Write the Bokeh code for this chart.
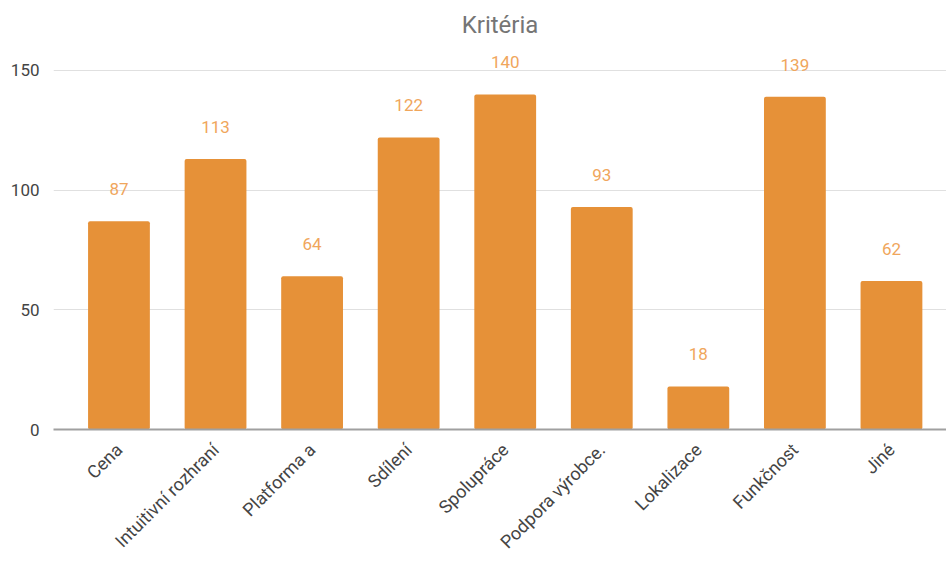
import math
from bokeh.plotting import figure
from bokeh.models import ColumnDataSource, Range1d, FixedTicker
from bokeh.core.properties import value
from bokeh.embed import file_html
from bokeh.resources import INLINE

categories = ["Cena", "Intuitivní rozhraní", "Platforma a", "Sdílení", "Spolupráce",
              "Podpora výrobce.", "Lokalizace", "Funkčnost", "Jiné"]
counts = [87, 113, 64, 122, 140, 93, 18, 139, 62]
y_ticks = [0, 50, 100, 150]
title_text = "Kritéria"

xs = list(range(len(categories)))
src = ColumnDataSource(dict(x=xs, top=counts, label=[str(v) for v in counts]))

p = figure(width=946, height=562, output_backend="svg", toolbar_location=None,
           x_range=Range1d(-0.678, 8.57), y_range=Range1d(0, 160),
           min_border_left=53, min_border_right=0, min_border_top=46, min_border_bottom=120)

p.title.text = title_text
p.title.align = "center"
p.title.text_font = "Roboto"
p.title.text_font_size = "24px"
p.title.text_font_style = "normal"
p.title.text_color = "#757575"
p.title.standoff = 16

p.vbar(x="x", top="top", width=0.64, source=src, fill_color="#e69138",
       line_color=None, border_radius=2)
p.text(x="x", y="top", text="label", source=src, y_offset=-32,
       text_align="center", text_baseline="middle", text_color="#f0a65c",
       text_font=value("Roboto"), text_font_size="17px")

p.outline_line_color = None
p.background_fill_color = "white"
p.xgrid.grid_line_color = None
p.ygrid.grid_line_color = "#e0e0e0"
p.ygrid.grid_line_width = 1
p.yaxis.ticker = FixedTicker(ticks=y_ticks)
p.xaxis.ticker = FixedTicker(ticks=xs)
p.xaxis.major_label_overrides = {i: c for i, c in zip(xs, categories)}
p.xaxis.major_label_orientation = math.pi / 4

p.yaxis.axis_line_color = None
p.yaxis.major_tick_line_color = None
p.yaxis.minor_tick_line_color = None
p.yaxis.major_label_standoff = 8
p.yaxis.major_label_text_font = "Roboto"
p.yaxis.major_label_text_font_size = "17px"
p.yaxis.major_label_text_color = "#444444"

p.xaxis.axis_line_color = "#a0a0a0"
p.xaxis.axis_line_width = 2
p.xaxis.major_tick_line_color = None
p.xaxis.minor_tick_line_color = None
p.xaxis.major_label_standoff = 11
p.xaxis.major_label_text_font = "Roboto"
p.xaxis.major_label_text_font_size = "18px"
p.xaxis.major_label_text_color = "#444444"

open("out.html", "w").write(file_html(p, INLINE))
